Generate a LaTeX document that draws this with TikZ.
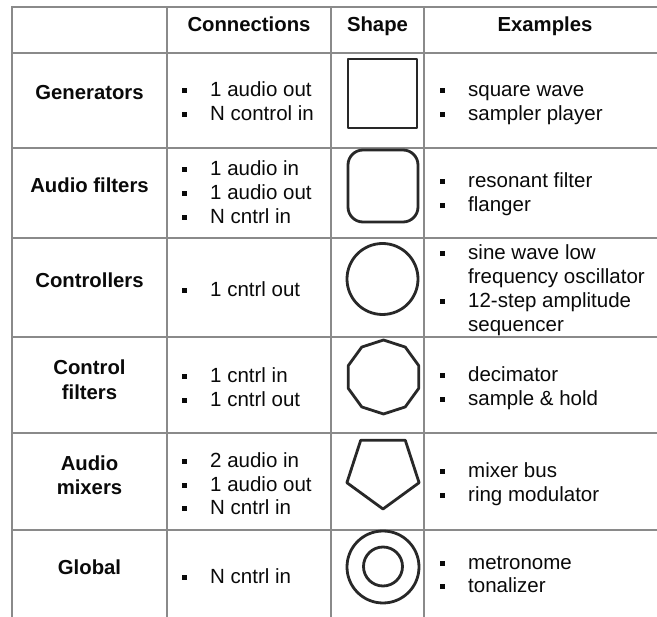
\documentclass[tikz,border=0pt]{standalone}
\usepackage{fontspec}
\setmainfont{Liberation Sans}
\definecolor{gridc}{HTML}{8A8A8A}
\definecolor{shapec}{HTML}{282828}
\definecolor{txt}{HTML}{0A0A0A}
\newcommand{\bitem}[4]{%
  \node[bul] (#1b) at (#2, #3-6.5) {};
  \node[item] (#1) at (#2+25.5, #3) {#4};}
\begin{document}
\begin{tikzpicture}[x=1pt,y=-1pt,
  gridline/.style={draw=gridc, line width=2pt},
  shp/.style={draw=shapec, line width=2.8pt, line join=round},
  hd/.style={font=\fontsize{20.3}{24}\selectfont\bfseries, anchor=base, inner sep=0pt, text=txt},
  item/.style={font=\fontsize{20.5}{24}\selectfont, anchor=base west, inner sep=0pt, text=txt},
  bul/.style={fill=txt, minimum width=4.8pt, minimum height=5.2pt, inner sep=0pt, outer sep=0pt}]
\useasboundingbox (0,0) rectangle (657,617);
\fill[white] (0,0) rectangle (657,617);
% grid
\foreach \yy in {7,53,148,238,337,433,530} \draw[gridline] (12,\yy) -- (657,\yy);
\draw[gridline, line width=2.6pt] (12,6) -- (12,617);
\foreach \xx in {167,331,424} \draw[gridline] (\xx,7) -- (\xx,617);
% header
\node[hd] (hcon) at (249,31.5) {Connections};
\node[hd] (hshp) at (377.5,31.5) {Shape};
\node[hd] (hex) at (545,31.5) {Examples};
% Generators
\node[hd] (lgen) at (89.5,100) {Generators};
\bitem{cg1}{184.5}{97}{1 audio out}
\bitem{cg2}{184.5}{121}{N control in}
\draw[shp] (348,59) rectangle (417,128);
\bitem{eg1}{442.5}{97}{square wave}
\bitem{eg2}{442.5}{121}{sampler player}
% Audio filters
\node[hd] (laf) at (89.5,193) {Audio filters};
\bitem{ca1}{184.5}{176}{1 audio in}
\bitem{ca2}{184.5}{200}{1 audio out}
\bitem{ca3}{184.5}{224}{N cntrl in}
\draw[shp, rounded corners=15pt] (348,150) rectangle (418,222);
\bitem{ea1}{442.5}{188}{resonant filter}
\bitem{ea2}{442.5}{212}{flanger}
% Controllers
\node[hd] (lctl) at (89.5,288) {Controllers};
\bitem{cc1}{184.5}{297}{1 cntrl out}
\draw[shp] (382.5,279) circle (35.5);
\bitem{ec1}{442.5}{260}{sine wave low}
\node[item] (ec1x) at (468,284) {frequency oscillator};
\bitem{ec2}{442.5}{308}{12-step amplitude}
\node[item] (ec2x) at (468,332) {sequencer};
% Control filters
\node[hd] (lcf1) at (89.5,375) {Control};
\node[hd] (lcf2) at (89.5,400) {filters};
\bitem{cf1}{184.5}{383}{1 cntrl in}
\bitem{cf2}{184.5}{407}{1 cntrl out}
\draw[shp] (383.5,340) -- (405.25,347.07) -- (418.69,365.57) -- (418.69,388.43) -- (405.25,406.93) -- (383.5,414) -- (361.75,406.93) -- (348.31,388.43) -- (348.31,365.57) -- (361.75,347.07) -- cycle;
\bitem{ef1}{442.5}{382}{decimator}
\bitem{ef2}{442.5}{406}{sample \& hold}
% Audio mixers
\node[hd] (lam1) at (89.5,471) {Audio};
\node[hd] (lam2) at (89.5,495) {mixers};
\bitem{cm1}{184.5}{468}{2 audio in}
\bitem{cm2}{184.5}{492}{1 audio out}
\bitem{cm3}{184.5}{515}{N cntrl in}
\draw[shp] (383,509) -- (419.1,482.7) -- (405.3,440.3) -- (360.7,440.3) -- (346.9,482.7) -- cycle;
\bitem{em1}{442.5}{478}{mixer bus}
\bitem{em2}{442.5}{502}{ring modulator}
% Global
\node[hd] (lglo) at (89.5,575) {Global};
\bitem{cl1}{184.5}{584}{N cntrl in}
\draw[shp] (383,567) circle (36);
\draw[shp] (383,566.5) circle (19.5);
\bitem{el1}{442.5}{570}{metronome}
\bitem{el2}{442.5}{593}{tonalizer}
\end{tikzpicture}
\end{document}
